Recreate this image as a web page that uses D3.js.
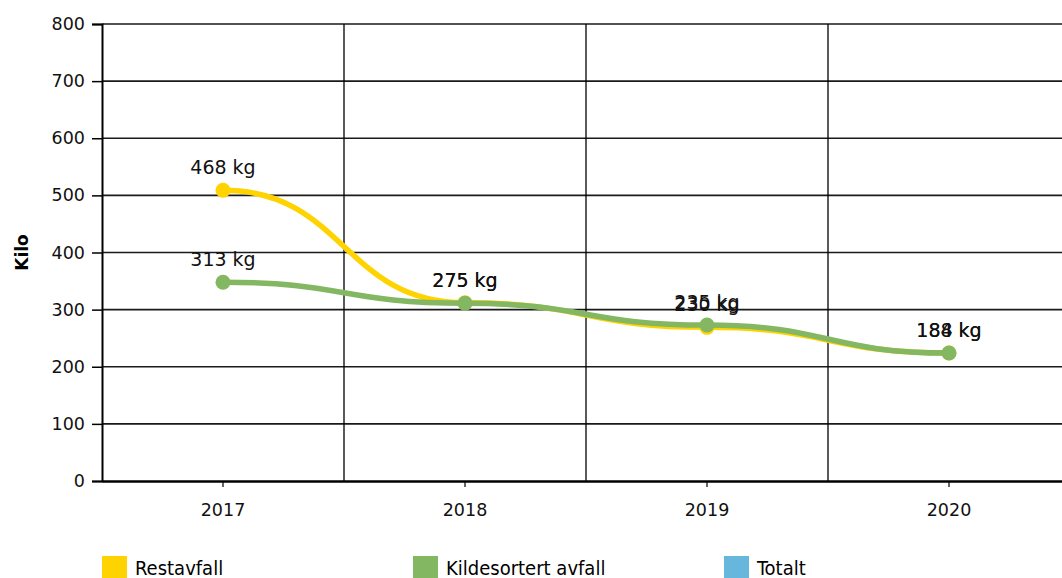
<!DOCTYPE html>
<html>
<head>
<meta charset="utf-8">
<script src="https://cdn.jsdelivr.net/npm/d3@7"></script>
<style>
  body { margin: 0; background: #fff; }
  svg { display: block; font-family: "DejaVu Sans", Verdana, sans-serif; }
</style>
</head>
<body>
<div id="chart"></div>
<script>
// data
var years = ["2017", "2018", "2019", "2020"];
var restavfall = [509, 312, 269, 224];
var kildesortert = [348, 311, 273, 224];
var restLabels = [468, 275, 230, 184];
var kildeLabels = [313, 275, 235, 188];
var legendNames = ["Restavfall", "Kildesortert avfall", "Totalt"];
var legendColors = ["#ffd300", "#84b761", "#67b7dc"];
var yTicks = [0, 100, 200, 300, 400, 500, 600, 700, 800];

var W = 1062, H = 578;
var margin = {top: 24, left: 102, bottom: 97};
var plotW = 968; // runs past the right edge, like the original

var svg = d3.select("#chart").append("svg")
    .attr("width", W).attr("height", H);

var x = d3.scaleBand().domain(years).range([margin.left, margin.left + plotW]);
var y = d3.scaleLinear().domain([0, 800]).range([H - margin.bottom, margin.top]);

//horizontal gridlines
svg.append("g").selectAll("line")
    .data(yTicks.slice(1))
    .enter().append("line")
    .attr("x1", margin.left).attr("x2", W)
    .attr("y1", d => y(d)).attr("y2", d => y(d))
    .attr("stroke", "#1a1a1a").attr("stroke-width", 1.6);

//vertical separators between years
svg.append("g").selectAll("line")
    .data(years.slice(1))
    .enter().append("line")
    .attr("x1", d => x(d)).attr("x2", d => x(d))
    .attr("y1", y(800)).attr("y2", y(0))
    .attr("stroke", "#000").attr("stroke-width", 1.3);

//y axis
var yAxis = svg.append("g")
    .attr("transform", "translate(" + margin.left + ",0)")
    .call(d3.axisLeft(y).tickValues(yTicks).tickSize(10).tickPadding(7));
yAxis.select(".domain").attr("stroke", "#000").attr("stroke-width", 2);
yAxis.selectAll(".tick line").attr("stroke", "#000").attr("stroke-width", 1.5);
yAxis.selectAll("text").attr("font-size", 17.5).attr("fill", "#111")
    .attr("font-family", "DejaVu Sans, Verdana, sans-serif");

//x axis
var xAxis = svg.append("g")
    .attr("transform", "translate(0," + y(0) + ")")
    .call(d3.axisBottom(x).tickSizeInner(6).tickSizeOuter(0).tickPadding(17));
xAxis.select(".domain").attr("stroke", "#000").attr("stroke-width", 2.5);
xAxis.selectAll(".tick line").attr("stroke", "#000").attr("stroke-width", 1.2);
xAxis.selectAll("text").attr("font-size", 17.5).attr("fill", "#111")
    .attr("font-family", "DejaVu Sans, Verdana, sans-serif");

svg.append("text")
    .attr("transform", "translate(28," + y(400) + ") rotate(-90)")
    .attr("text-anchor", "middle")
    .attr("font-size", 17).attr("font-weight", "bold")
    .text("Kilo");

var line = d3.line()
    .x((d, i) => x(years[i]) + x.bandwidth() / 2)
    .y(d => y(d))
    .curve(d3.curveBumpX);

var series = [
  {name: legendNames[0], values: restavfall, labels: restLabels, color: legendColors[0]},
  {name: legendNames[1], values: kildesortert, labels: kildeLabels, color: legendColors[1]}
];

series.forEach(function(s){
  svg.append("path")
      .datum(s.values)
      .attr("d", line)
      .attr("fill", "none")
      .attr("stroke", s.color)
      .attr("stroke-width", 5.5);
  svg.append("g").selectAll("circle")
      .data(s.values)
      .enter().append("circle")
      .attr("cx", (d, i) => x(years[i]) + x.bandwidth() / 2)
      .attr("cy", d => y(d))
      .attr("r", 7.5)
      .attr("fill", s.color);
});

//value labels sit just above each point
series.forEach(function(s){
  svg.append("g").selectAll("text")
      .data(s.labels)
      .enter().append("text")
      .attr("x", (d, i) => x(years[i]) + x.bandwidth() / 2)
      .attr("y", (d, i) => y(s.values[i]) - 16)
      .attr("text-anchor", "middle")
      .attr("font-size", 19)
      .attr("fill", "#111")
      .text(d => d + " kg");
});

//legend
var legend = svg.append("g").selectAll("g")
    .data(legendNames)
    .enter().append("g")
    .attr("transform", (d, i) => "translate(" + (102 + i * 311) + ",556)");
legend.append("rect")
    .attr("width", 25).attr("height", 22)
    .attr("fill", (d, i) => legendColors[i]);
legend.append("text")
    .attr("x", 33).attr("y", 19)
    .attr("font-size", 20)
    .attr("font-family", "DejaVu Sans Condensed, DejaVu Sans, sans-serif")
    .attr("font-stretch", "condensed")
    .text(d => d);
</script>
</body>
</html>
